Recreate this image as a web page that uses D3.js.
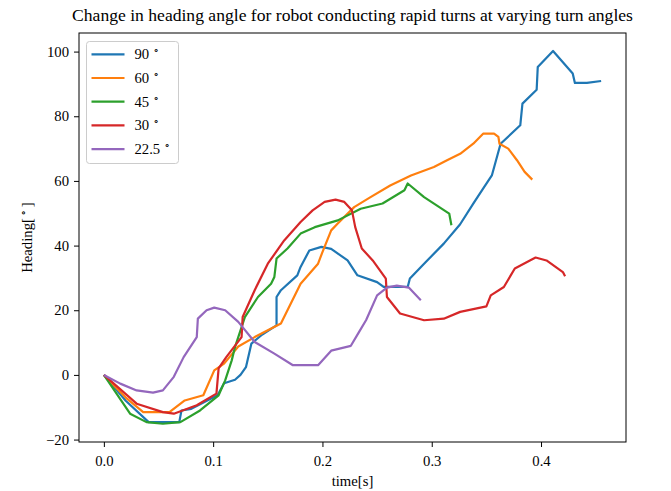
<!DOCTYPE html>
<html>
<head>
<meta charset="utf-8">
<script src="https://cdn.jsdelivr.net/npm/d3@7"></script>
<style>
  body { margin: 0; background: #fff; }
  text { font-family: "Liberation Serif", "Times New Roman", serif; fill: #000; }
</style>
</head>
<body>
<div id="chart"></div>
<script>
// heading samples [time s, heading deg] for each turn angle
var turn90 = [[0,0],[0.02,-8],[0.041,-14.6],[0.069,-14.6],[0.071,-11],[0.08,-10.5],[0.104,-6.3],[0.11,-2.6],[0.12,-1.5],[0.125,0],[0.13,2.4],[0.135,9.7],[0.145,12.5],[0.158,15.3],[0.158,24.1],[0.162,26.2],[0.177,30.8],[0.18,33.4],[0.188,38.5],[0.199,39.6],[0.208,39],[0.223,35.4],[0.232,30.8],[0.25,28.7],[0.256,27.2],[0.278,27.2],[0.28,29.8],[0.293,34.4],[0.311,40.6],[0.326,46.6],[0.338,53],[0.347,57.6],[0.355,61.7],[0.363,71.5],[0.381,77.2],[0.383,83.9],[0.396,88.2],[0.397,95.2],[0.411,100.2],[0.429,93.2],[0.431,90.3],[0.442,90.3],[0.455,90.9]];
var turn60 = [[0,0],[0.02,-7],[0.036,-11.5],[0.06,-11.5],[0.074,-7.9],[0.091,-6.3],[0.101,1.4],[0.11,3.5],[0.123,8.8],[0.138,11.7],[0.162,15.9],[0.18,28.2],[0.196,34.4],[0.2,38],[0.208,44.7],[0.214,46.8],[0.229,51.9],[0.244,55],[0.262,58.6],[0.281,61.7],[0.302,64.3],[0.314,66.4],[0.326,68.4],[0.338,71.5],[0.347,74.6],[0.357,74.6],[0.361,73.6],[0.362,71.5],[0.37,70],[0.378,66.4],[0.385,62.8],[0.392,60.4]];
var turn45 = [[0,0],[0.024,-12],[0.039,-14.6],[0.054,-15.1],[0.07,-14.6],[0.088,-11],[0.105,-6.3],[0.111,-1.7],[0.117,4.5],[0.12,8.6],[0.129,17.9],[0.141,24.1],[0.153,28.2],[0.156,30.3],[0.158,36],[0.168,39.1],[0.18,43.7],[0.193,45.7],[0.214,47.8],[0.235,51.4],[0.255,53],[0.275,57.1],[0.278,59.2],[0.293,55],[0.316,49.9],[0.318,46.3]];
var turn30 = [[0,0],[0.03,-8.9],[0.054,-11.5],[0.064,-12],[0.085,-9.4],[0.103,-5.8],[0.105,2],[0.112,5.5],[0.126,11.7],[0.127,17.9],[0.138,26.2],[0.15,34.4],[0.165,41.6],[0.18,47.3],[0.191,50.9],[0.202,53.5],[0.212,54.2],[0.22,53.5],[0.227,50.9],[0.23,45.7],[0.236,39.1],[0.246,35.4],[0.258,29.8],[0.259,24.1],[0.271,19],[0.293,16.9],[0.311,17.4],[0.326,19.5],[0.35,21.2],[0.354,24.6],[0.366,27.2],[0.376,32.9],[0.395,36.3],[0.405,35.4],[0.42,31.8],[0.422,30.5]];
var turn22 = [[0,0],[0.015,-2.7],[0.03,-4.8],[0.045,-5.5],[0.054,-4.8],[0.064,-0.6],[0.073,5.5],[0.085,11.7],[0.086,17.4],[0.094,20],[0.101,20.8],[0.111,20],[0.123,16.4],[0.138,10.2],[0.156,6.6],[0.173,3],[0.196,3],[0.208,7.5],[0.226,9],[0.233,13],[0.24,17],[0.25,24.6],[0.259,27],[0.268,27.6],[0.279,27],[0.29,23.1]];

var labels = ["90", "60", "45", "30", "22.5"];
var colors = ["#1f77b4", "#ff7f0e", "#2ca02c", "#d62728", "#9467bd"];
var seriesData = [turn90, turn60, turn45, turn30, turn22];
var xTicks = [0, 0.1, 0.2, 0.3, 0.4];
var yTicks = [-20, 0, 20, 40, 60, 80, 100];

var margin = {top: 33, right: 45, bottom: 49, left: 79},
    width = 671 - margin.left - margin.right,
    height = 491 - margin.top - margin.bottom;

var svg = d3.select("#chart")
    .append("svg")
    .attr("width", 671)
    .attr("height", 491);

var g = svg.append("g")
    .attr("transform", "translate(" + margin.left + "," + margin.top + ")");

var x = d3.scaleLinear().domain([-0.02275, 0.47775]).range([0, width]);
var y = d3.scaleLinear().domain([-20.75, 105.75]).range([height, 0]);

// axes
var xAxis = g.append("g")
    .attr("transform", "translate(0," + height + ")")
    .call(d3.axisBottom(x).tickValues(xTicks).tickFormat(d3.format(".1f")).tickSize(5).tickPadding(9));
xAxis.select(".domain").remove();
xAxis.selectAll("text").style("font-size", "14.7px").style("font-family", "Liberation Serif, serif");

var yAxis = g.append("g")
    .call(d3.axisLeft(y).tickValues(yTicks).tickFormat(function (d) { return d < 0 ? "\u2212" + Math.abs(d) : d; }).tickSize(5).tickPadding(5));
yAxis.select(".domain").remove();
yAxis.selectAll("text").style("font-size", "14.7px").style("font-family", "Liberation Serif, serif");

// lines
var line = d3.line()
    .x(function (d) { return x(d[0]); })
    .y(function (d) { return y(d[1]); });

g.selectAll(".series")
    .data(seriesData)
    .enter()
    .append("path")
    .attr("d", line)
    .attr("fill", "none")
    .attr("stroke", function (d, i) { return colors[i]; })
    .attr("stroke-width", 2.2)
    .attr("stroke-linejoin", "round");

// frame
g.append("rect")
    .attr("width", width)
    .attr("height", height)
    .attr("fill", "none")
    .attr("stroke", "#000")
    .attr("stroke-width", 1);

// title and labels
svg.append("text")
    .attr("x", margin.left + width / 2)
    .attr("y", 21)
    .attr("text-anchor", "middle")
    .style("font-size", "17.6px")
    .text("Change in heading angle for robot conducting rapid turns at varying turn angles");

svg.append("text")
    .attr("x", margin.left + width / 2)
    .attr("y", 486)
    .attr("text-anchor", "middle")
    .style("font-size", "14.7px")
    .text("time[s]");

var yl = svg.append("text")
    .attr("transform", "translate(32," + (margin.top + height / 2) + ") rotate(-90)")
    .attr("text-anchor", "middle")
    .style("font-size", "14.7px");
yl.append("tspan").text("Heading[");
yl.append("tspan").attr("dy", -6).style("font-size", "10px").text(" \u2218 ");
yl.append("tspan").attr("dy", 6).text("]");

// legend
var legend = svg.append("g").attr("transform", "translate(86.5,41.5)");
legend.append("rect")
    .attr("width", 92)
    .attr("height", 122)
    .attr("rx", 3)
    .attr("fill", "#fff")
    .attr("fill-opacity", 0.8)
    .attr("stroke", "#ccc")
    .attr("stroke-width", 1);

labels.forEach(function (lab, i) {
    var row = legend.append("g").attr("transform", "translate(0," + (12.8 + i * 23.7) + ")");
    row.append("line")
        .attr("x1", 5).attr("x2", 38)
        .attr("stroke", colors[i])
        .attr("stroke-width", 2.2);
    var t = row.append("text")
        .attr("x", 48)
        .attr("y", 5)
        .style("font-size", "14.7px");
    t.append("tspan").text(lab + " ");
    t.append("tspan").attr("dy", -6).style("font-size", "10px").text("\u2218");
});
</script>
</body>
</html>
